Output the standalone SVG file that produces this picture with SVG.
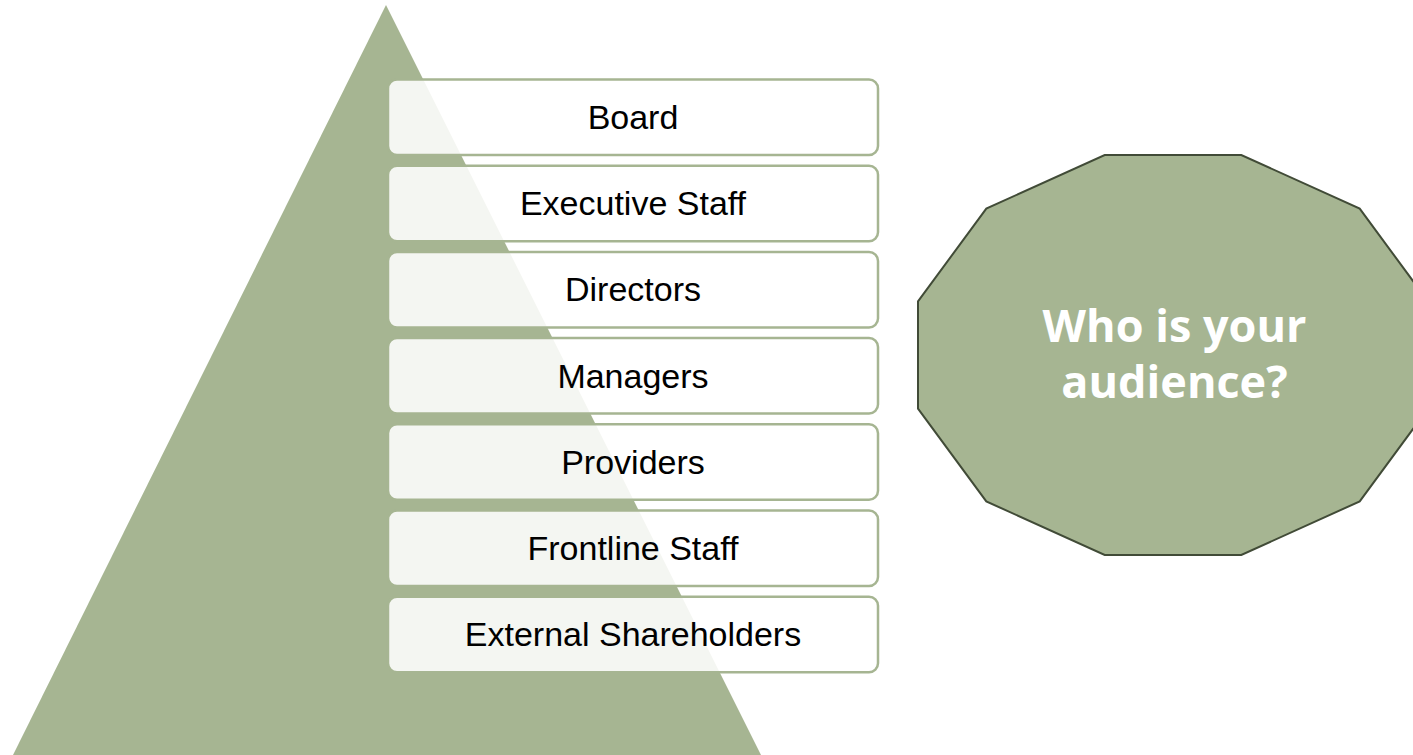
<svg xmlns="http://www.w3.org/2000/svg" width="1413" height="755" viewBox="0 0 1413 755">
  <style>
    .box { fill: #FFFFFF; fill-opacity: 0.88; stroke: #A6B592; stroke-width: 2.5; }
    .lbl { font-family: "Liberation Sans", Arial, sans-serif; font-size: 34px; fill: #000000; text-anchor: middle; }
    .q { font-family: "Open Sans", "Liberation Sans", sans-serif; font-weight: 700; font-size: 45px; fill: #FFFFFF; text-anchor: middle; }
  </style>
  <rect x="0" y="0" width="1413" height="755" fill="#FFFFFF"/>
  <g id="pyramid">
    <polygon points="386,5 13,755 761,755" fill="#A6B592"/>
  </g>
  <g id="board"><rect class="box" x="388" y="79.5" width="490" height="75.5" rx="9"/><text class="lbl" x="633" y="129">Board</text></g>
  <g id="executive-staff"><rect class="box" x="388" y="165.7" width="490" height="75.5" rx="9"/><text class="lbl" x="633" y="215.2">Executive Staff</text></g>
  <g id="directors"><rect class="box" x="388" y="251.9" width="490" height="75.5" rx="9"/><text class="lbl" x="633" y="301.4">Directors</text></g>
  <g id="managers"><rect class="box" x="388" y="338.1" width="490" height="75.5" rx="9"/><text class="lbl" x="633" y="387.6">Managers</text></g>
  <g id="providers"><rect class="box" x="388" y="424.3" width="490" height="75.5" rx="9"/><text class="lbl" x="633" y="473.8">Providers</text></g>
  <g id="frontline-staff"><rect class="box" x="388" y="510.5" width="490" height="75.5" rx="9"/><text class="lbl" x="633" y="560">Frontline Staff</text></g>
  <g id="external-shareholders"><rect class="box" x="388" y="596.7" width="490" height="75.5" rx="9"/><text class="lbl" x="633" y="646.2">External Shareholders</text></g>
  <g id="audience">
    <polygon points="1428,301.4 1359.7,208.6 1241.3,155 1104.7,155 986.3,208.6 918,301.4 918,408.6 986.3,501.4 1104.7,555 1241.3,555 1359.7,501.4 1428,408.6" fill="#A6B592" stroke="#414B37" stroke-width="2"/>
    <text class="q" x="1174.5" y="342">Who is your</text>
    <text class="q" x="1174.5" y="398">audience?</text>
  </g>
  <g id="connectors"></g>
</svg>
